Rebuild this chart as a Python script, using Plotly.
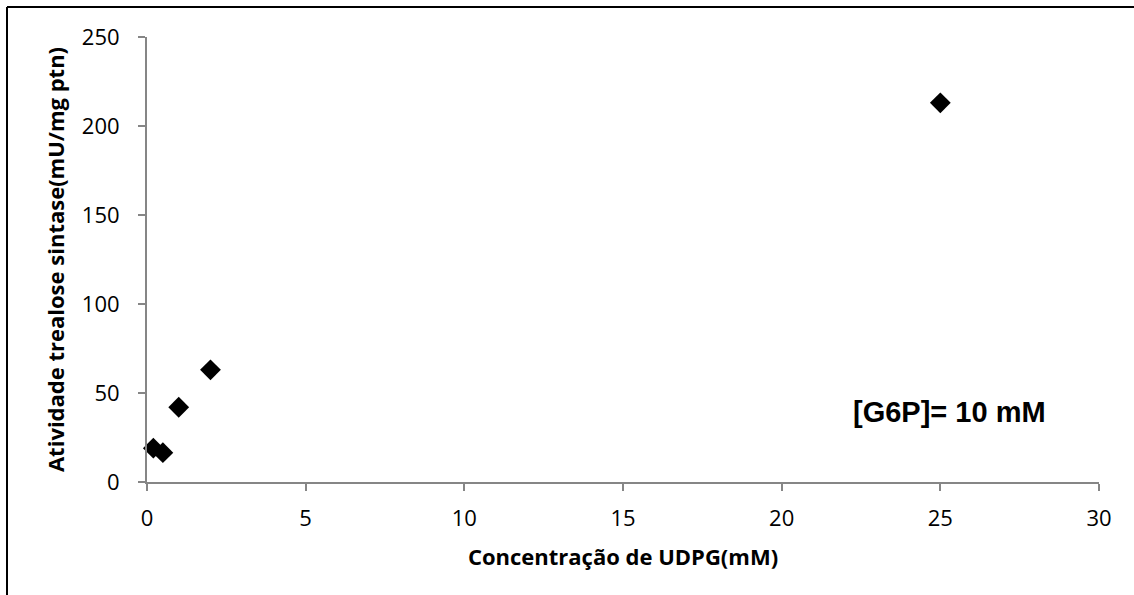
import plotly.graph_objects as go

udpg_mM = [0.2, 0.5, 1, 2, 25]
atividade = [19, 16.5, 42, 63, 213]
x_ticks = [0, 5, 10, 15, 20, 25, 30]
y_ticks = [0, 50, 100, 150, 200, 250]

W, H = 1134, 595
L, R, T, B = 147, 35, 37, 113
pw, ph = W - L - R, H - T - B

fig = go.Figure()
fig.add_trace(go.Scatter(
    x=udpg_mM, y=atividade, mode="markers",
    marker=dict(symbol="diamond", size=16, color="black", line=dict(width=0)),
    showlegend=False, cliponaxis=False))

axis_common = dict(showgrid=False, zeroline=False, showline=True, linecolor="#868686",
                   linewidth=2, ticks="outside", ticklen=7, tickwidth=2, tickcolor="#868686",
                   tickfont=dict(family="Open Sans", size=22, color="black"))

fig.update_xaxes(range=[0, 30], tickvals=x_ticks, ticklabelstandoff=9, **axis_common,
                 title=dict(text="<b>Concentração de UDPG(mM)</b>",
                            font=dict(family="Open Sans", size=22, color="black"), standoff=18))
fig.update_yaxes(range=[0, 250], tickvals=y_ticks, ticklabelstandoff=14, **axis_common,
                 title=dict(text="<b>Atividade trealose sintase(mU/mg ptn)</b>",
                            font=dict(family="Open Sans", size=22, color="black"), standoff=11))

fig.add_annotation(x=(949 - L) / pw * 30, y=(482 - 412) / ph * 250, xref="x", yref="y",
                   text="<b>[G6P]= 10 mM</b>", showarrow=False,
                   font=dict(family="Liberation Sans", size=29, color="black"))

def px_x(p):
    return (p - L) / pw
def px_y(p):
    return (H - B - p) / ph

fig.add_shape(type="line", xref="paper", yref="paper", x0=px_x(7), x1=px_x(7), y0=px_y(7), y1=px_y(H + 5),
              line=dict(color="black", width=2))
fig.add_shape(type="line", xref="paper", yref="paper", x0=px_x(7), x1=px_x(W + 5), y0=px_y(7), y1=px_y(7),
              line=dict(color="black", width=2))

fig.update_layout(width=W, height=H, margin=dict(l=L, r=R, t=T, b=B, autoexpand=False),
                  plot_bgcolor="white", paper_bgcolor="white")
fig.write_html("out.html")
